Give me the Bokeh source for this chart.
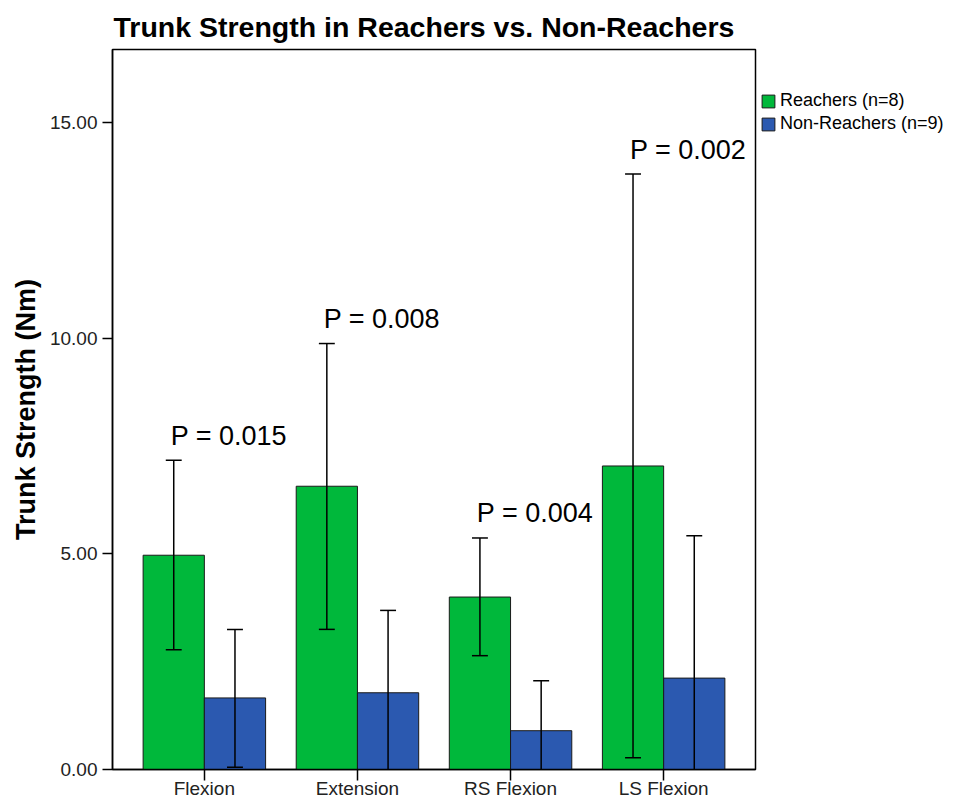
from bokeh.plotting import figure
from bokeh.layouts import row
from bokeh.models import (ColumnDataSource, FactorRange, Range1d, FixedTicker,
                          NumeralTickFormatter, Legend, LegendItem)
from bokeh.transform import dodge
from bokeh.core.properties import value
from bokeh.embed import file_html
from bokeh.resources import INLINE

# ---- data ----
categories = ["Flexion", "Extension", "RS Flexion", "LS Flexion"]
reachers_mean = [4.97, 6.57, 4.00, 7.04]
reachers_low = [2.78, 3.25, 2.64, 0.27]
reachers_high = [7.17, 9.88, 5.37, 13.81]
nonreachers_mean = [1.66, 1.78, 0.90, 2.12]
nonreachers_low = [0.05, -0.13, -0.26, -1.18]
nonreachers_high = [3.25, 3.69, 2.06, 5.42]
p_values = ["P = 0.015", "P = 0.008", "P = 0.004", "P = 0.002"]
y_ticks = [0, 5, 10, 15]
series_labels = ["Reachers (n=8)", "Non-Reachers (n=9)"]

# ---- style ----
FONT = "Liberation Sans"
GREEN = "#00B83B"
BLUE = "#2B59B0"
BAR_W = 0.4
OFF = 0.2
CAP = 0.052
LABEL_GAP = 0.57
H = 801

src = ColumnDataSource(dict(
    cat=categories,
    r_mean=reachers_mean, r_low=reachers_low, r_high=reachers_high,
    n_mean=nonreachers_mean, n_low=nonreachers_low, n_high=nonreachers_high,
    ptxt=p_values,
    py=[h + LABEL_GAP for h in reachers_high],
))

p = figure(
    x_range=FactorRange(factors=categories, range_padding=0.1, range_padding_units="absolute"),
    y_range=Range1d(0, 16.7),
    width=757, height=H,
    output_backend="svg", toolbar_location=None,
    min_border_left=112, min_border_right=2, min_border_top=49, min_border_bottom=31,
    background_fill_color="white", border_fill_color="white",
)

# title
p.title.text = "Trunk Strength in Reachers vs. Non-Reachers"
p.title.text_font = FONT
p.title.text_font_size = "28.5px"
p.title.text_font_style = "bold"
p.title.text_color = "black"
p.title.align = "left"
p.title.offset = 1
p.title.standoff = 13

# bars
r_bar = p.vbar(x=dodge("cat", -OFF, range=p.x_range), top="r_mean", bottom=0, width=BAR_W,
               source=src, fill_color=GREEN, line_color="#1a1a1a", line_width=1)
n_bar = p.vbar(x=dodge("cat", OFF, range=p.x_range), top="n_mean", bottom=0, width=BAR_W,
               source=src, fill_color=BLUE, line_color="#1a1a1a", line_width=1)

# error bars
for off, lo, hi in [(-OFF, "r_low", "r_high"), (OFF, "n_low", "n_high")]:
    p.segment(x0=dodge("cat", off, range=p.x_range), x1=dodge("cat", off, range=p.x_range),
              y0=lo, y1=hi, source=src, line_color="black", line_width=1.5)
    for yy in (lo, hi):
        p.segment(x0=dodge("cat", off - CAP, range=p.x_range),
                  x1=dodge("cat", off + CAP, range=p.x_range),
                  y0=yy, y1=yy, source=src, line_color="black", line_width=1.5)

# p-value labels
p.text(x=dodge("cat", -0.22, range=p.x_range), y="py", text="ptxt", source=src,
       text_font=value(FONT), text_font_size="27px", text_color="black",
       text_align="left", text_baseline="middle")

# axes
p.xgrid.visible = False
p.ygrid.visible = False
p.outline_line_color = "black"
p.outline_line_width = 1.5

p.yaxis.ticker = FixedTicker(ticks=y_ticks)
p.yaxis.formatter = NumeralTickFormatter(format="0.00")
p.yaxis.axis_label = "Trunk Strength (Nm)"
p.yaxis.axis_label_text_font = FONT
p.yaxis.axis_label_text_font_size = "27px"
p.yaxis.axis_label_text_font_style = "bold"
p.yaxis.axis_label_text_color = "black"
p.yaxis.axis_label_standoff = 6
p.yaxis.minor_tick_line_color = None

for ax in (p.xaxis, p.yaxis):
    ax.major_tick_in = 0
    ax.major_tick_out = 10
    ax.major_tick_line_color = "black"
    ax.major_tick_line_width = 1.5
    ax.axis_line_color = "black"
    ax.axis_line_width = 1.5
    ax.major_label_text_font = FONT
    ax.major_label_text_font_size = "19px"
    ax.major_label_text_color = "#222222"
    ax.major_label_standoff = 5

p.xaxis.major_tick_out = 11
p.xaxis.major_label_standoff = -3

# legend: a companion figure to the right of the chart, holding only the legend
lg = figure(width=198, height=H, x_range=Range1d(0, 1), y_range=Range1d(0, 1),
            output_backend="svg", toolbar_location=None,
            x_axis_location=None, y_axis_location=None, min_border=0,
            outline_line_color=None, background_fill_color="white",
            border_fill_color="white")
lg.xgrid.visible = False
lg.ygrid.visible = False
# key glyphs only (placed outside the visible range; they exist to style the legend swatches)
r_key = lg.vbar(x=[5], top=[5], bottom=[4], width=0.1, fill_color=GREEN, line_color="#1a1a1a", line_width=1)
n_key = lg.vbar(x=[5], top=[5], bottom=[4], width=0.1, fill_color=BLUE, line_color="#1a1a1a", line_width=1)

legend = Legend(
    items=[LegendItem(label=series_labels[0], renderers=[r_key]),
           LegendItem(label=series_labels[1], renderers=[n_key])],
    location=(3, H - 166), orientation="vertical",
    glyph_width=16, glyph_height=16, label_height=20, spacing=2,
    padding=2, margin=0, label_standoff=4,
    label_text_font=FONT, label_text_font_size="18px", label_text_color="black",
    border_line_color=None, background_fill_alpha=0,
)
lg.add_layout(legend, "center")

open("out.html", "w").write(file_html(row(p, lg, spacing=0), INLINE))
